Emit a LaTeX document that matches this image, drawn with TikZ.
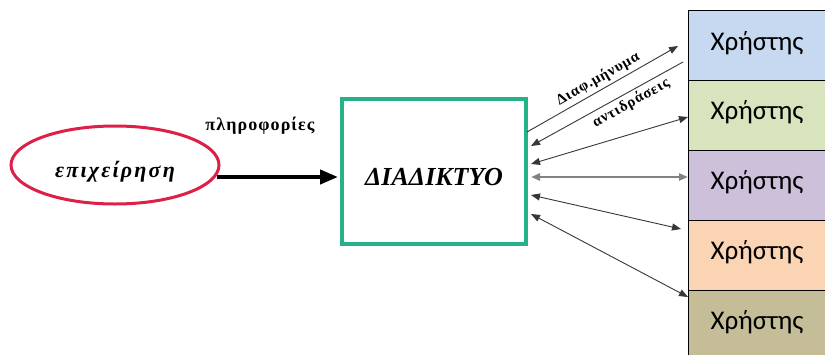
\documentclass[tikz,border=0pt]{standalone}
\usepackage{fontspec}
\setmainfont{Liberation Serif}
\newfontfamily\userfont{Carlito}
\newfontfamily\spacedfont[LetterSpace=10]{Liberation Serif}
\newfontfamily\widefont[LetterSpace=6]{Liberation Serif}
\usetikzlibrary{arrows.meta,shapes.geometric,calc}
\definecolor{netgreen}{RGB}{38,178,136}
\definecolor{epred}{RGB}{222,32,72}
\definecolor{ublue}{RGB}{198,217,241}
\definecolor{ugreen}{RGB}{215,228,189}
\definecolor{upurple}{RGB}{204,192,218}
\definecolor{uorange}{RGB}{251,212,180}
\definecolor{ukhaki}{RGB}{196,189,151}
\definecolor{linegray}{RGB}{55,55,55}
\definecolor{midgray}{RGB}{130,130,130}
\tikzset{
  userbox/.style={draw=black, line width=1.2pt, minimum width=142pt, minimum height=70pt, anchor=north west, inner sep=0pt},
  usertext/.style={font=\userfont\fontsize{27}{30}\selectfont},
  thinarrow/.style={draw=linegray, line width=0.9pt, -{Triangle[length=9pt,width=7pt]}},
  thinboth/.style={draw=linegray, line width=0.9pt, {Triangle[length=9pt,width=7pt]}-{Triangle[length=9pt,width=7pt]}},
  grayboth/.style={draw=midgray, line width=2.4pt, {Triangle[length=9pt,width=7pt,fill=linegray]}-{Triangle[length=9pt,width=7pt,fill=linegray]}},
  smalllabel/.style={font=\widefont\bfseries\fontsize{15}{16}\selectfont, inner sep=0pt}
}
\begin{document}
\begin{tikzpicture}[x=1pt,y=-1pt]
\useasboundingbox (0,0) rectangle (825,354);
\fill[white] (0,0) rectangle (825,354);
\begin{scope}
\clip (0,0) rectangle (825,354);
% users
\node[userbox, fill=ublue]   (u1) at (688,10)  {};
\node[userbox, fill=ugreen]  (u2) at (688,80)  {};
\node[userbox, fill=upurple] (u3) at (688,150) {};
\node[userbox, fill=uorange] (u4) at (688,220) {};
\node[userbox, fill=ukhaki]  (u5) at (688,290) {};
\end{scope}
\node[usertext] (t1) at (757,43)  {Χρήστης};
\node[usertext] (t2) at (757,112) {Χρήστης};
\node[usertext] (t3) at (757,182) {Χρήστης};
\node[usertext] (t4) at (757,252) {Χρήστης};
\node[usertext] (t5) at (757,322) {Χρήστης};

% enterprise ellipse
\node[ellipse, draw=epred, line width=3pt, minimum width=208pt, minimum height=78pt, inner sep=0pt] (ep) at (115,165) {};
\node[font=\spacedfont\bfseries\itshape\fontsize{22}{24}\selectfont] (ept) at (115,172) {επιχείρηση};

% internet box
\node[draw=netgreen, line width=4pt, minimum width=184pt, minimum height=145pt, inner sep=0pt] (net) at (433.5,171) {};
\node[font=\bfseries\itshape\fontsize{26}{30}\selectfont] (nett) at (434,177) {ΔΙΑΔΙΚΤΥΟ};

% main arrow
\coordinate (m0) at (217,177);
\coordinate (m1) at (338,177);
\draw[line width=4pt, -{Triangle[length=18pt,width=14pt]}] (m0) -- (m1);
\node[font=\widefont\bfseries\fontsize{18}{20}\selectfont] (info) at (260,126) {πληροφορίες};

% user connectors
\coordinate (b1) at (527,132);
\coordinate (e1) at (678,46);
\coordinate (e2) at (683,62);
\coordinate (b2) at (531,146);
\coordinate (b3) at (531,164);
\coordinate (e3) at (688,117);
\coordinate (b4) at (531,177);
\coordinate (e4) at (688,177);
\coordinate (b5) at (531,195);
\coordinate (e5) at (681,229);
\coordinate (b6) at (531,214);
\coordinate (e6) at (688,297);
\draw[thinarrow] (b1) -- (e1);
\draw[thinarrow] (e2) -- (b2);
\draw[thinboth] (b3) -- (e3);
\draw[grayboth] (b4) -- (e4);
\draw[thinboth] (b5) -- (e5);
\draw[thinboth] (b6) -- (e6);
\node[smalllabel, rotate=29.5] (l1) at (598,79) {Διαφ.μήνυμα};
\node[smalllabel, rotate=29] (l2) at (631,103) {αντιδράσεις};
\end{tikzpicture}
\end{document}
